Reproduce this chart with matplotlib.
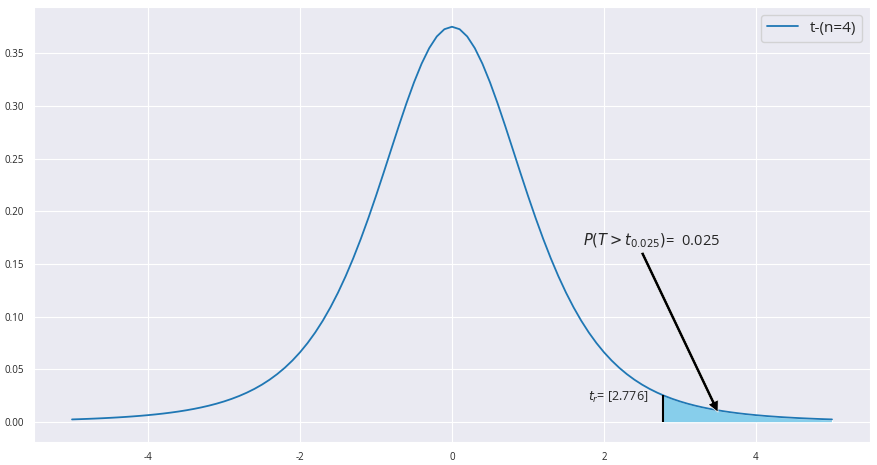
import numpy as np
import matplotlib
matplotlib.use('Agg')
import matplotlib.pyplot as plt
import seaborn as sns

# t分布 (n=4) 密度
x = np.round(np.arange(-50, 51) / 10, 1)
y = np.array([0.002650, 0.002889, 0.003155, 0.003450, 0.003778, 0.004144, 0.004549, 0.005002, 0.005508, 0.006074,
              0.006708, 0.007418, 0.008217, 0.009116, 0.010128, 0.011273, 0.012564, 0.014025, 0.015681, 0.017560,
              0.019693, 0.022121, 0.024880, 0.028022, 0.031599, 0.035673, 0.040326, 0.045622, 0.051651, 0.058512,
              0.066291, 0.075114, 0.085081, 0.096300, 0.108875, 0.122880, 0.138379, 0.155386, 0.173858, 0.193682,
              0.214663, 0.236500, 0.258752, 0.280912, 0.302320, 0.322262, 0.339976, 0.354709, 0.365787, 0.372666,
              0.375000,
              0.372666, 0.365787, 0.354709, 0.339976, 0.322262, 0.302320, 0.280912, 0.258752, 0.236500, 0.214663,
              0.193682, 0.173858, 0.155386, 0.138379, 0.122880, 0.108875, 0.096300, 0.085081, 0.075114, 0.066291,
              0.058512, 0.051651, 0.045622, 0.040326, 0.035673, 0.031599, 0.028022, 0.024880, 0.022121, 0.019693,
              0.017560, 0.015681, 0.014025, 0.012564, 0.011273, 0.010128, 0.009116, 0.008217, 0.007418, 0.006708,
              0.006074, 0.005508, 0.005002, 0.004549, 0.004144, 0.003778, 0.003450, 0.003155, 0.002889, 0.002650])

t_r = 2.776      # 临界值
y_tr = 0.02560   # 临界值处的密度
alpha = 0.025
label = 't-(n=4)'

sns.set_style('darkgrid')
plt.rcParams['font.family'] = ['Open Sans', 'DejaVu Sans']
plt.rcParams['axes.unicode_minus'] = False

fig, ax = plt.subplots(figsize=(8.77, 4.65), dpi=100)
fig.subplots_adjust(left=0.0388, right=0.992, top=0.985, bottom=0.0495)

ax.plot(x, y, color='#1f77b4', lw=1.3, label=label)

# 右尾面积
fx = np.r_[t_r, x[x > t_r]]
fy = np.r_[y_tr, y[x > t_r]]
ax.fill_between(fx, fy, color='skyblue', edgecolor='white', lw=0.8)
ax.vlines(t_r, 0, y_tr, color='black', lw=1.5)

ax.text(1.79, 0.02, '$t_r$= [%.3f]' % t_r, fontsize=9, color='#262626')
ax.text(1.72, 0.168, '$P(T>t_{0.025})$=  %.3f' % alpha, fontsize=10.5, color='#262626')
ax.annotate('', xy=(3.5, 0.0095), xytext=(2.5, 0.161),
            arrowprops=dict(facecolor='black', edgecolor='white', lw=0.5, shrink=0,
                            width=2.4, headwidth=8, headlength=8))

ax.tick_params(labelsize=7)
ax.legend(loc='upper right', fontsize=11)

plt.savefig('out.png', dpi=100)
